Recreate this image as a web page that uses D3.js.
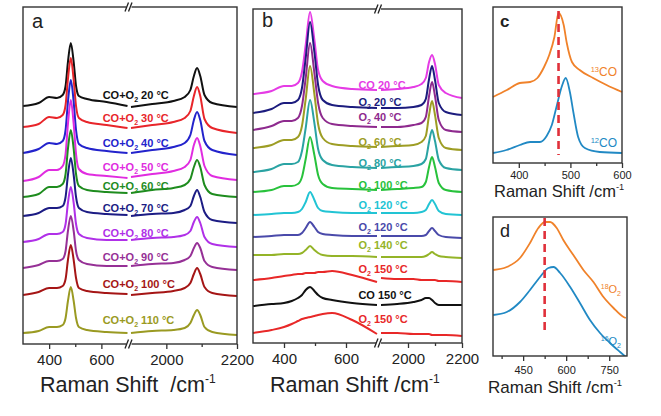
<!DOCTYPE html>
<html><head><meta charset="utf-8">
<script src="https://cdn.jsdelivr.net/npm/d3@7"></script>
<style>
body{margin:0;background:#fff}
svg{display:block}
text{font-family:Arial,"Liberation Sans",Helvetica,sans-serif;white-space:pre}
</style></head>
<body><svg id="chart" width="661" height="416"></svg>
<script>
// ---------------- DATA ----------------
// Raman shift sample positions (cm-1) for panel a
const aXLeft  = [300, 360, 400, 430, 452, 463, 472, 483, 494, 503, 514, 545, 620, 700];
const aXRight = [1900, 1960, 2020, 2052, 2068, 2078, 2087, 2096, 2108, 2130, 2200];
// Raman shift sample positions (cm-1) for panel b
const bXLeft  = [300, 360, 400, 425, 445, 458, 470, 484, 498, 510, 525, 555, 620, 700];
const bXRight = [1900, 1960, 2020, 2050, 2066, 2078, 2089, 2100, 2114, 2140, 2200];

// Panel a: CO+O2 at different temperatures (stacked intensities, a.u.)
const aTemps = ["20", "30", "40", "50", "60", "70", "80", "90", "100", "110"];
const aLeftSeries = [
  [238, 241, 247, 246, 249, 258, 282, 301, 282, 258, 248, 245, 242, 238],
  [217, 220, 227, 226, 229, 239, 265, 286, 264, 238, 226, 222, 219, 216],
  [191, 195, 201, 200, 203, 214, 242, 264, 242, 214, 200, 196, 193, 191],
  [163, 167, 174, 174, 178, 190, 220, 244, 220, 190, 175, 170, 168, 166],
  [147, 150, 157, 157, 160, 170, 195, 214, 195, 170, 158, 154, 152, 151],
  [128, 131, 136, 136, 138, 147, 169, 186, 169, 147, 136, 132, 130, 129],
  [102, 105, 110, 110, 112, 120, 141, 157, 141, 120, 110, 106, 104, 104],
  [76, 79, 83, 83, 85, 93, 113, 128, 113, 93, 84, 80, 78, 78],
  [49, 52, 56, 56, 58, 65, 84, 99, 84, 66, 56, 53, 51, 50],
  [11, 13, 17, 17, 19, 26, 43, 57, 43, 26, 17, 14, 12, 11]
];
const aRightSeries = [
  [237, 240, 243, 247, 254, 268, 276, 268, 249, 241, 237],
  [216, 219, 222, 226, 233, 248, 257, 248, 225, 216, 211],
  [191, 194, 197, 201, 209, 224, 232, 224, 203, 194, 189],
  [167, 170, 173, 177, 184, 199, 206, 198, 178, 168, 164],
  [151, 154, 156, 159, 165, 177, 184, 177, 159, 150, 147],
  [128, 130, 131, 134, 138, 148, 154, 147, 132, 124, 121],
  [104, 106, 107, 109, 113, 122, 127, 121, 107, 100, 97],
  [78, 80, 81, 84, 88, 96, 101, 96, 83, 77, 74],
  [49, 51, 53, 56, 61, 70, 76, 70, 57, 51, 48],
  [11, 13, 14, 16, 21, 29, 34, 29, 17, 12, 9]
];
const aLabelLevels = [249, 226, 201, 177, 158, 136, 111, 87, 60, 24];

// Panel b: gas / temperature sequence
const bGas   = ["CO", "O2", "O2", "O2", "O2", "O2", "O2", "O2", "O2", "O2", "CO", "O2"];
const bTemps = ["20", "20", "40", "60", "80", "100", "120", "120", "140", "150", "150", "150"];
const bLeftSeries = [
  [249, 252, 257, 257, 260, 271, 298, 331, 303, 273, 262, 257, 254, 253],
  [230, 234, 240, 240, 243, 255, 285, 321, 291, 258, 243, 238, 236, 235],
  [213, 217, 222, 222, 225, 237, 265, 300, 270, 240, 225, 219, 217, 216],
  [195, 198, 203, 203, 206, 217, 244, 277, 249, 219, 205, 199, 197, 196],
  [171, 174, 179, 179, 181, 192, 215, 243, 220, 194, 183, 178, 176, 175],
  [151, 153, 157, 157, 159, 166, 184, 206, 188, 168, 159, 155, 154, 153],
  [128, 129, 130, 130, 131, 134, 141, 151, 143, 135, 132, 131, 130, 130],
  [106, 107, 108, 108, 108, 110, 115, 121, 116, 111, 109, 108, 107, 107],
  [88, 88, 89, 89, 89, 90, 93, 97, 93, 90, 88, 87, 87, 86],
  [63, 65, 67, 68, 69, 69, 70, 70, 70, 71, 71, 72, 68, 61],
  [37, 39, 40, 42, 45, 48, 53, 56, 52, 48, 45, 43, 40, 38],
  [10, 13, 16, 19, 22, 24, 25, 26, 27, 28, 29, 30, 23, 9]
];
const bRightSeries = [
  [253, 254, 256, 259, 265, 281, 288, 279, 258, 250, 245],
  [235, 235, 236, 238, 244, 264, 277, 263, 240, 231, 228],
  [216, 216, 218, 220, 226, 247, 261, 247, 223, 213, 211],
  [196, 197, 198, 201, 207, 228, 242, 228, 205, 195, 193],
  [175, 176, 177, 179, 184, 201, 213, 202, 183, 175, 173],
  [153, 154, 155, 156, 161, 176, 186, 176, 160, 153, 151],
  [130, 130, 130, 131, 133, 139, 143, 139, 132, 129, 128],
  [107, 107, 107, 107, 108, 112, 115, 112, 108, 106, 105],
  [86, 86, 86, 86, 87, 89, 91, 89, 87, 86, 85],
  [65, 64, 64, 63, 63, 63, 63, 63, 62, 62, 61],
  [38, 39, 41, 43, 45, 45, 43, 40, 38, 38, 38],
  [10, 10, 9, 9, 9, 9, 8, 8, 8, 8, 7]
];
const bLabelLevels = [258, 241, 226, 201, 180, 158, 138, 116, 98, 74, 48, 24];

// Panel c: 13CO vs 12CO
const c13X = [350, 377, 402, 422, 436, 449, 459, 469, 477, 487, 493, 503, 518, 544, 570, 600];
const c13Y = [66, 73, 80, 81, 85, 96, 108, 126, 150, 138, 120, 101, 93, 85, 78, 71];
const c12X = [350, 376, 402, 422, 441, 454, 464, 473, 483, 491, 499, 506, 515, 528, 557, 600];
const c12Y = [10, 13, 18, 21, 21, 27, 38, 56, 76, 85, 71, 50, 26, 15, 11, 10];
const cMarker = 477;

// Panel d: 18O2 vs 16O2
const d18X = [346, 393, 439, 474, 503, 526, 544, 567, 590, 625, 660, 695, 730, 765, 800, 808];
const d18Y = [86, 89, 98, 113, 128, 134, 134, 128, 116, 101, 86, 74, 59, 48, 39, 38];
const d16X = [346, 393, 439, 474, 509, 538, 556, 579, 614, 648, 683, 718, 753, 788, 808];
const d16Y = [41, 44, 54, 66, 79, 88, 89, 83, 69, 53, 36, 23, 13, 4, -1];
const dMarker = 525;

// tick labels
const abMajorLeft = [400, 600], abMinorLeft = [500];
const abMajorRight = [2000, 2200], abMinorRight = [2100];
const cMajor = [400, 500, 600], cMinor = [450, 550];
const dMajor = [450, 600, 750], dMinor = [375, 525, 675];

// ---------------- STYLES ----------------
const aColors = ["#111111", "#e8252a", "#2323cc", "#e02ce0", "#1e8c1e", "#1c1c84", "#b030e8", "#963096", "#a51515", "#9a9a22"];
const bColors = ["#e53be5", "#1c1c7e", "#8e2a8e", "#9d9d24", "#2aa3a3", "#28c23c", "#22c4d4", "#4a4aaa", "#94b428", "#e82828", "#111111", "#e82828"];
const orange = "#f0822a", blue = "#2189c4", dashRed = "#e0303a";
const frameColor = "#333";

// ---------------- DRAW ----------------
const svg = d3.select("#chart");

function frame(x0, y0, x1, y1) {
  svg.append("rect").attr("x", x0).attr("y", y0).attr("width", x1 - x0).attr("height", y1 - y0)
    .attr("fill", "none").attr("stroke", frameColor).attr("stroke-width", 1.4);
}
function breakMark(x, y) {
  const g = svg.append("g");
  g.append("rect").attr("x", x - 3).attr("y", y - 2).attr("width", 5).attr("height", 4).attr("fill", "#fff");
  g.append("line").attr("x1", x - 4.5).attr("y1", y + 4.5).attr("x2", x - 1).attr("y2", y - 4.5)
    .attr("stroke", "#222").attr("stroke-width", 1.3);
  g.append("line").attr("x1", x - 1).attr("y1", y + 4.5).attr("x2", x + 2.5).attr("y2", y - 4.5)
    .attr("stroke", "#222").attr("stroke-width", 1.3);
}
function axis(scale, y, majors, minors, fs, pad) {
  const g = svg.append("g").attr("transform", `translate(0,${y})`)
    .call(d3.axisBottom(scale).tickValues(majors).tickSize(5).tickSizeOuter(0).tickPadding(pad).tickFormat(d3.format("d")));
  g.select(".domain").remove();
  g.selectAll("text").attr("font-size", fs).attr("fill", "#222").attr("font-family", "Arial, 'Liberation Sans', sans-serif");
  g.selectAll("line").attr("stroke", frameColor).attr("stroke-width", 1.3);
  if (minors && minors.length) {
    const m = svg.append("g").attr("transform", `translate(0,${y})`)
      .call(d3.axisBottom(scale).tickValues(minors).tickSize(3).tickSizeOuter(0).tickFormat(""));
    m.select(".domain").remove();
    m.selectAll("line").attr("stroke", frameColor).attr("stroke-width", 1.3);
  }
}
function title(x, y, fs, main) {
  const t = svg.append("text").attr("x", x).attr("y", y).attr("font-size", fs).attr("fill", "#222").text(main);
  t.append("tspan").attr("font-size", fs * 0.56).attr("dy", -fs * 0.42).text("-1");
}
function tempLabel(x, y, color, gas, temp) {
  const t = svg.append("text").attr("x", x).attr("y", y).attr("font-size", 11).attr("font-weight", "bold").attr("fill", color);
  if (gas === "CO") {
    t.append("tspan").text("CO " + temp + " °C");
  } else {
    const head = gas === "CO+O2" ? "CO+O" : "O";
    t.append("tspan").text(head);
    t.append("tspan").attr("font-size", 7).attr("dy", 2.5).text("2");
    t.append("tspan").attr("dy", -2.5).text(" " + temp + " °C");
  }
}
function spectrum(lineGen, s, color) {
  svg.append("path").attr("d", lineGen(s)).attr("fill", "none").attr("stroke", color)
    .attr("stroke-width", 2).attr("stroke-linejoin", "round");
}

// ----- Panel a -----
const xa1 = d3.scaleLinear().domain([300, 700]).range([23, 127.5]);
const xa2 = d3.scaleLinear().domain([1900, 2200]).range([131, 237]);
const ya = d3.scaleLinear().domain([0, 337]).range([344, 7]);
const lineA1 = d3.line().x((d, i) => xa1(aXLeft[i])).y(d => ya(d)).curve(d3.curveMonotoneX);
const lineA2 = d3.line().x((d, i) => xa2(aXRight[i])).y(d => ya(d)).curve(d3.curveMonotoneX);
aLeftSeries.forEach((s, k) => {
  spectrum(lineA1, s, aColors[k]);
  spectrum(lineA2, aRightSeries[k], aColors[k]);
});
aTemps.forEach((t, k) => tempLabel(xa1(605), ya(aLabelLevels[k]) + 4, aColors[k], "CO+O2", t));
frame(23, 7, 237, 344);
axis(xa1, 344, abMajorLeft, abMinorLeft, 15, 5);
axis(xa2, 344, abMajorRight, abMinorRight, 15, 5);
breakMark(129.5, 7);
breakMark(129.5, 344);
svg.append("text").attr("x", 32).attr("y", 28).attr("font-size", 20).attr("fill", "#222").text("a");
title(40, 392, 21.5, "Raman Shift  /cm");

// ----- Panel b -----
const xb1 = d3.scaleLinear().domain([300, 700]).range([253, 377]);
const xb2 = d3.scaleLinear().domain([1900, 2200]).range([381, 462]);
const yb = d3.scaleLinear().domain([0, 334]).range([343, 9]);
const lineB1 = d3.line().x((d, i) => xb1(bXLeft[i])).y(d => yb(d)).curve(d3.curveMonotoneX);
const lineB2 = d3.line().x((d, i) => xb2(bXRight[i])).y(d => yb(d)).curve(d3.curveMonotoneX);
bLeftSeries.forEach((s, k) => {
  spectrum(lineB1, s, bColors[k]);
  spectrum(lineB2, bRightSeries[k], bColors[k]);
});
bTemps.forEach((t, k) => tempLabel(xb1(640), yb(bLabelLevels[k]) + 4, bColors[k], bGas[k], t));
frame(253, 9, 462, 343);
axis(xb1, 343, abMajorLeft, abMinorLeft, 15, 5);
axis(xb2, 343, abMajorRight, abMinorRight, 15, 5);
breakMark(379, 9);
breakMark(379, 343);
svg.append("text").attr("x", 262).attr("y", 27).attr("font-size", 20).attr("fill", "#222").text("b");
title(270, 392, 21.5, "Raman Shift /cm");

// ----- Panel c -----
const xc = d3.scaleLinear().domain([350, 600]).range([493, 622]);
const yc = d3.scaleLinear().domain([0, 156]).range([163, 7]);
const lineC = (xs) => d3.line().x((d, i) => xc(xs[i])).y(d => yc(d)).curve(d3.curveMonotoneX);
svg.append("path").attr("d", lineC(c13X)(c13Y)).attr("fill", "none").attr("stroke", orange).attr("stroke-width", 1.8);
svg.append("path").attr("d", lineC(c12X)(c12Y)).attr("fill", "none").attr("stroke", blue).attr("stroke-width", 1.8);
svg.append("line").attr("x1", xc(cMarker)).attr("x2", xc(cMarker)).attr("y1", yc(152)).attr("y2", yc(8))
  .attr("stroke", dashRed).attr("stroke-width", 2.6).attr("stroke-dasharray", "8,5");
frame(493, 7, 622, 163);
axis(xc, 163, cMajor, cMinor, 11, 3);
svg.append("text").attr("x", 500).attr("y", 27).attr("font-size", 17).attr("font-weight", "bold").attr("fill", "#222").text("c");
{
  const t = svg.append("text").attr("x", 617).attr("y", 76).attr("text-anchor", "end").attr("font-size", 12).attr("fill", orange);
  t.append("tspan").attr("font-size", 7.5).attr("dy", -4).text("13");
  t.append("tspan").attr("dy", 4).text("CO");
  const u = svg.append("text").attr("x", 617).attr("y", 147).attr("text-anchor", "end").attr("font-size", 12).attr("fill", blue);
  u.append("tspan").attr("font-size", 7.5).attr("dy", -4).text("12");
  u.append("tspan").attr("dy", 4).text("CO");
}
title(494, 197, 16.5, "Raman Shift /cm");

// ----- Panel d -----
const xd = d3.scaleLinear().domain([345, 812]).range([493, 627]);
const yd = d3.scaleLinear().domain([0, 139]).range([356, 217]);
svg.append("clipPath").attr("id", "clipD").append("rect").attr("x", 493).attr("y", 217).attr("width", 134).attr("height", 139);
const lineD = (xs) => d3.line().x((d, i) => xd(xs[i])).y(d => yd(d)).curve(d3.curveMonotoneX);
svg.append("path").attr("d", lineD(d18X)(d18Y)).attr("fill", "none").attr("stroke", orange).attr("stroke-width", 1.8).attr("clip-path", "url(#clipD)");
svg.append("path").attr("d", lineD(d16X)(d16Y)).attr("fill", "none").attr("stroke", blue).attr("stroke-width", 1.8).attr("clip-path", "url(#clipD)");
svg.append("line").attr("x1", xd(dMarker)).attr("x2", xd(dMarker)).attr("y1", yd(138)).attr("y2", yd(21))
  .attr("stroke", dashRed).attr("stroke-width", 2.6).attr("stroke-dasharray", "8,5");
frame(493, 217, 627, 356);
axis(xd, 356, dMajor, dMinor, 11, 5);
svg.append("text").attr("x", 500).attr("y", 237).attr("font-size", 18).attr("fill", "#222").text("d");
function isoLabel(x, y, color, iso) {
  const t = svg.append("text").attr("x", x).attr("y", y).attr("text-anchor", "end").attr("font-size", 11).attr("fill", color);
  t.append("tspan").attr("font-size", 7).attr("dy", -4).text(iso);
  t.append("tspan").attr("dy", 4).text("O");
  t.append("tspan").attr("font-size", 7).attr("dy", 2.5).text("2");
}
isoLabel(621, 293, orange, "18");
isoLabel(621, 345, blue, "16");
title(488, 393, 17, "Raman Shift /cm");
</script>
</body></html>
